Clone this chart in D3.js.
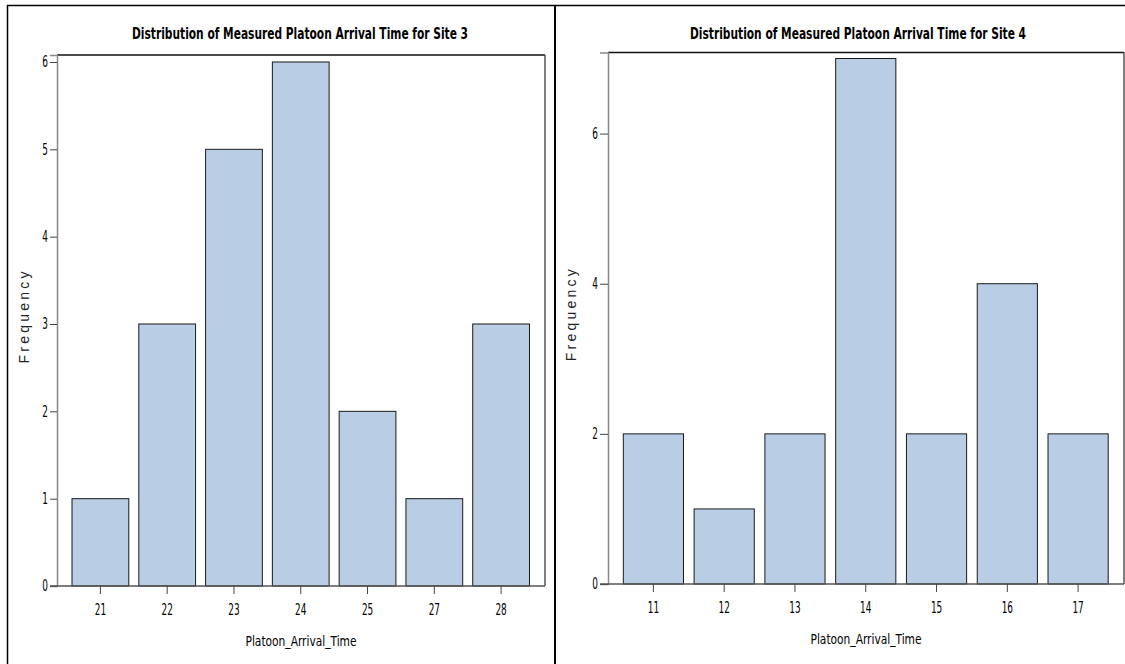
<!DOCTYPE html>
<html>
<head>
<meta charset="utf-8">
<script src="https://cdn.jsdelivr.net/npm/d3@7"></script>
<style>
    body { margin: 0; background: #fff; }
    svg { display: block; }
    .title { font-family: "DejaVu Sans Condensed", "Liberation Sans", sans-serif; font-weight: bold; font-size: 15px; fill: #000; }
    .tick text { font-family: "DejaVu Sans Condensed", "Liberation Sans", sans-serif; font-size: 15px; fill: #000; }
    .axis-label { font-family: "DejaVu Sans Condensed", "Liberation Sans", sans-serif; font-size: 14px; fill: #000; }
    .y-label { font-family: "Liberation Sans", Arial, sans-serif; font-size: 14px; fill: #222; }
</style>
</head>
<body>
<svg id="chart" width="1125" height="664"></svg>
<script>
const site3Times = ["21", "22", "23", "24", "25", "27", "28"];
const site3Counts = [1, 3, 5, 6, 2, 1, 3];
const site3Ticks = [0, 1, 2, 3, 4, 5, 6];

const site4Times = ["11", "12", "13", "14", "15", "16", "17"];
const site4Counts = [2, 1, 2, 7, 2, 4, 2];
const site4Ticks = [0, 2, 4, 6];

const svg = d3.select("#chart");

// squeeze text horizontally to imitate the narrow SAS font
function narrow(sel, factor) {
    sel.each(function () {
        const w = this.getComputedTextLength();
        d3.select(this).attr("textLength", w * factor).attr("lengthAdjust", "spacingAndGlyphs");
    });
}

// outer panel borders
svg.append("line").attr("x1", 7).attr("x2", 1125).attr("y1", 5.5).attr("y2", 5.5)
    .attr("stroke", "#000").attr("stroke-width", 1.5);
svg.append("line").attr("x1", 7.5).attr("x2", 7.5).attr("y1", 5).attr("y2", 664)
    .attr("stroke", "#000").attr("stroke-width", 1.5);
svg.append("line").attr("x1", 555).attr("x2", 555).attr("y1", 5).attr("y2", 664)
    .attr("stroke", "#000").attr("stroke-width", 2);

function drawPanel(opts) {
    const { left, right, top, bottom, cats, counts, ticks, yMax, title, titleX, labelX, tick } = opts;
    const g = svg.append("g");

    const x = d3.scaleBand()
        .domain(cats)
        .range([left + 10, right - 10.5])
        .paddingInner(0.15)
        .paddingOuter(0.075);
    const y = d3.scaleLinear().domain([0, yMax]).range([bottom, top]);

    // title
    g.append("text").attr("class", "title")
        .attr("x", titleX).attr("y", 39)
        .attr("text-anchor", "middle")
        .attr("textLength", 336).attr("lengthAdjust", "spacingAndGlyphs")
        .text(title);

    // bars
    g.selectAll("rect.bar")
        .data(counts)
        .enter()
        .append("rect")
        .attr("class", "bar")
        .attr("x", (d, i) => x(cats[i]))
        .attr("y", (d) => y(d))
        .attr("width", x.bandwidth())
        .attr("height", (d) => bottom - y(d))
        .attr("fill", "#b9cde5")
        .attr("stroke", "#1a1a1a")
        .attr("stroke-width", 1);

    // frame
    g.append("line").attr("x1", left).attr("x2", right).attr("y1", top).attr("y2", top)
        .attr("stroke", "#111").attr("stroke-width", 1.5);
    g.append("line").attr("x1", right).attr("x2", right).attr("y1", top).attr("y2", bottom)
        .attr("stroke", "#555").attr("stroke-width", 1.5);

    // y axis
    const yAxis = g.append("g")
        .attr("transform", `translate(${left},0)`)
        .call(d3.axisLeft(y).tickValues(ticks).tickSize(tick).tickPadding(2).tickFormat(d3.format("d")));
    yAxis.select(".domain").attr("stroke", "#888").attr("stroke-width", 1.5);
    yAxis.selectAll(".tick line").attr("stroke", "#444");
    narrow(yAxis.selectAll(".tick text"), 0.66);

    // x axis
    const xAxis = g.append("g")
        .attr("transform", `translate(0,${bottom})`)
        .call(d3.axisBottom(x).tickSize(8).tickPadding(10).tickSizeOuter(0));
    xAxis.select(".domain").attr("stroke", "#555").attr("stroke-width", 1.5)
        .attr("d", `M${left - tick},0H${right}`);
    xAxis.selectAll(".tick line").attr("stroke", "#444");
    narrow(xAxis.selectAll(".tick text"), 0.66);

    g.append("text").attr("class", "axis-label")
        .attr("x", (left + right) / 2).attr("y", bottom + 60)
        .attr("text-anchor", "middle")
        .attr("textLength", 111).attr("lengthAdjust", "spacingAndGlyphs")
        .text("Platoon_Arrival_Time");

    g.append("text").attr("class", "y-label")
        .attr("transform", `translate(${labelX},${(top + bottom) / 2 - 3}) rotate(-90)`)
        .attr("text-anchor", "middle")
        .attr("textLength", 92).attr("lengthAdjust", "spacing")
        .text("Frequency");
}

drawPanel({
    left: 57, right: 545, top: 55, bottom: 586,
    cats: site3Times, counts: site3Counts, ticks: site3Ticks, yMax: 6.08,
    title: "Distribution of Measured Platoon Arrival Time for Site 3",
    titleX: 300, labelX: 28.5, tick: 7
});

drawPanel({
    left: 608, right: 1124, top: 52.5, bottom: 584,
    cats: site4Times, counts: site4Counts, ticks: site4Ticks, yMax: 7.08,
    title: "Distribution of Measured Platoon Arrival Time for Site 4",
    titleX: 858, labelX: 576, tick: 8
});
</script>
</body>
</html>
